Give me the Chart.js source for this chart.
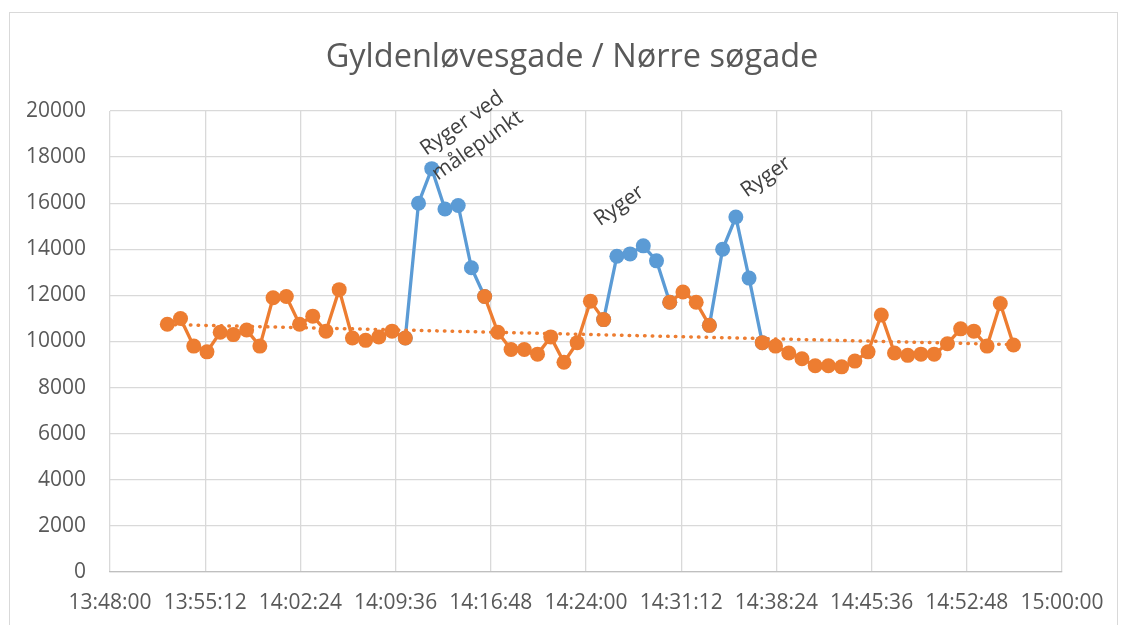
<!DOCTYPE html>
<html lang="da">
  <head>
    <meta charset="UTF-8" />
    <title>Gyldenløvesgade / Nørre søgade</title>
    <script src="https://cdn.jsdelivr.net/npm/chart.js"></script>
    <style>
      body { margin: 0; background: #fff; }
      #wrap { position: relative; width: 1124px; height: 625px; }
      #ramme {
        position: absolute; left: 9px; top: 12px; width: 1109px; height: 640px;
        border: 1px solid #d9d9d9; box-sizing: border-box; pointer-events: none;
      }
    </style>
  </head>
  <body>
    <div id="wrap">
      <canvas id="maaling" width="1124" height="625"></canvas>
      <div id="ramme"></div>
    </div>

    <script>
      // måletidspunkter
      const tider = [
        "13:52:20", "13:53:20", "13:54:20", "13:55:20", "13:56:20", "13:57:20", "13:58:20", "13:59:20",
        "14:00:20", "14:01:20", "14:02:20", "14:03:20", "14:04:20", "14:05:20", "14:06:20", "14:07:20",
        "14:08:20", "14:09:20", "14:10:20", "14:11:20", "14:12:20", "14:13:20", "14:14:20", "14:15:20",
        "14:16:20", "14:17:20", "14:18:20", "14:19:20", "14:20:20", "14:21:20", "14:22:20", "14:23:20",
        "14:24:20", "14:25:20", "14:26:20", "14:27:20", "14:28:20", "14:29:20", "14:30:20", "14:31:20",
        "14:32:20", "14:33:20", "14:34:20", "14:35:20", "14:36:20", "14:37:20", "14:38:20", "14:39:20",
        "14:40:20", "14:41:20", "14:42:20", "14:43:20", "14:44:20", "14:45:20", "14:46:20", "14:47:20",
        "14:48:20", "14:49:20", "14:50:20", "14:51:20", "14:52:20", "14:53:20", "14:54:20", "14:55:20",
        "14:56:20",
      ];

      // almindelige målinger (orange)
      const normal = [
        10750, 11000, 9800, 9550, 10400, 10300, 10500, 9800,
        11900, 11950, 10750, 11100, 10450, 12250, 10150, 10050,
        10200, 10450, 10150, null, null, null, null, null,
        11950, 10400, 9650, 9650, 9450, 10200, 9100, 9950,
        11750, 10950, null, null, null, null, 11700, 12150,
        11700, 10700, null, null, null, 9950, 9800, 9500,
        9250, 8950, 8950, 8900, 9150, 9550, 11150, 9500,
        9400, 9450, 9450, 9900, 10550, 10450, 9800, 11650,
        9850,
      ];

      // målinger med ryger ved målepunkt (blå)
      const ryger = [
        null, null, null, null, null, null, null, null,
        null, null, null, null, null, null, null, null,
        null, null, 10150, 16000, 17500, 15750, 15900, 13200,
        11950, null, null, null, null, null, null, null,
        null, 10950, 13700, 13800, 14150, 13500, 11700, null,
        null, 10700, 14000, 15400, 12750, 9950, null, null,
        null, null, null, null, null, null, null, null,
        null, null, null, null, null, null, null, null,
        null,
      ];

      // tekster ved toppene: [indeks, linjer]
      const noter = [
        [20, ["Ryger ved", "målepunkt"]],
        [36, ["Ryger"]],
        [43, ["Ryger"]],
      ];

      const tilSek = (t) => {
        const [h, m, s] = t.split(":").map(Number);
        return h * 3600 + m * 60 + s;
      };
      const tilTekst = (v) => {
        const h = Math.floor(v / 3600);
        const m = Math.floor((v % 3600) / 60);
        const s = Math.round(v % 60);
        return h + ":" + String(m).padStart(2, "0") + ":" + String(s).padStart(2, "0");
      };

      const xs = tider.map(tilSek);

      // lineær tendenslinje over de orange punkter
      const pts = xs.map((x, i) => [x, normal[i]]).filter((p) => p[1] !== null);
      const n = pts.length;
      const mx = pts.reduce((a, p) => a + p[0], 0) / n;
      const my = pts.reduce((a, p) => a + p[1], 0) / n;
      let sxy = 0, sxx = 0;
      pts.forEach((p) => { sxy += (p[0] - mx) * (p[1] - my); sxx += (p[0] - mx) ** 2; });
      const hald = sxy / sxx;
      const trend = [xs[0], xs[xs.length - 1]].map((x) => ({ x: x, y: my + hald * (x - mx) }));

      const tekstFarve = "#595959";
      const skrift = "'Open Sans', 'Noto Sans', sans-serif";

      const titelPlugin = {
        id: "titel",
        afterDraw(chart) {
          const c = chart.ctx;
          c.save();
          c.font = "32.5px " + skrift;
          c.fillStyle = tekstFarve;
          c.textAlign = "center";
          c.textBaseline = "middle";
          c.fillText("Gyldenløvesgade / Nørre søgade", 572, 58);
          c.restore();
        },
      };

      const noterPlugin = {
        id: "noter",
        afterDatasetsDraw(chart) {
          const c = chart.ctx;
          const sx = chart.scales.x, sy = chart.scales.y;
          const flyt = [[38, -34], [-24, -40], [30, -40]];
          c.save();
          c.font = "21px " + skrift;
          c.fillStyle = "#404040";
          c.textAlign = "center";
          c.textBaseline = "middle";
          noter.forEach(([i, linjer], k) => {
            const px = sx.getPixelForValue(xs[i]) + flyt[k][0];
            const py = sy.getPixelForValue(ryger[i]) + flyt[k][1];
            c.save();
            c.translate(px, py);
            c.rotate((-35 * Math.PI) / 180);
            linjer.forEach((t, j) => {
              c.fillText(t, 0, (j - (linjer.length - 1) / 2) * 27);
            });
            c.restore();
          });
          c.restore();
        },
      };

      const ctx = document.getElementById("maaling").getContext("2d");
      new Chart(ctx, {
        type: "line",
        data: {
          datasets: [
            {
              label: "Målinger",
              data: xs.map((x, i) => ({ x: x, y: normal[i] })),
              borderColor: "#ED7D31",
              backgroundColor: "#ED7D31",
              borderWidth: 3.3,
              pointRadius: 7.5,
              pointBorderWidth: 0,
              spanGaps: false,
            },
            {
              label: "Tendens",
              data: trend,
              borderColor: "#ED7D31",
              borderWidth: 3.5,
              borderDash: [0.5, 7.2],
              borderCapStyle: "round",
              pointRadius: 0,
            },
            {
              label: "Ryger",
              data: xs.map((x, i) => ({ x: x, y: ryger[i] })),
              borderColor: "#5B9BD5",
              backgroundColor: "#5B9BD5",
              borderWidth: 3.3,
              pointRadius: 7.5,
              pointBorderWidth: 0,
              spanGaps: false,
            },
          ],
        },
        options: {
          responsive: false,
          animation: false,
          layout: { padding: { top: 111, right: 62, bottom: 0, left: 0 } },
          plugins: {
            legend: { display: false },
            title: { display: false },
            tooltip: { enabled: false },
          },
          scales: {
            x: {
              type: "linear",
              min: tilSek("13:48:00"),
              max: tilSek("15:00:00"),
              afterFit: (s) => { s.height = 53; },
              grid: { color: "#D9D9D9", lineWidth: 1.3, drawTicks: false },
              border: { color: "#BFBFBF", width: 1.3 },
              ticks: {
                stepSize: 432,
                autoSkip: false,
                maxRotation: 0,
                padding: 18,
                color: tekstFarve,
                font: { family: skrift, size: 21 },
                callback: (v) => tilTekst(v),
              },
            },
            y: {
              min: 0,
              max: 20000,
              afterFit: (s) => { s.width = 110; },
              grid: { color: "#D9D9D9", lineWidth: 1.3, drawTicks: false },
              border: { display: false },
              ticks: {
                stepSize: 2000,
                padding: 24,
                color: tekstFarve,
                font: { family: skrift, size: 21 },
                callback: (v) => String(v),
              },
            },
          },
        },
        plugins: [titelPlugin, noterPlugin],
      });
    </script>
  </body>
</html>
